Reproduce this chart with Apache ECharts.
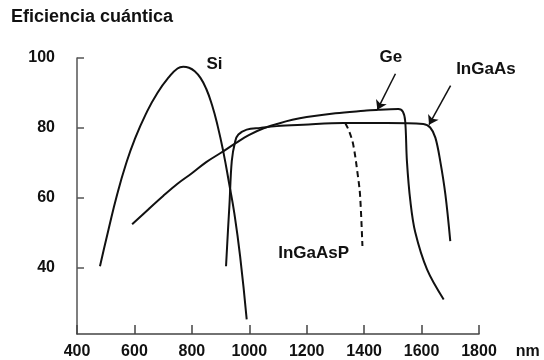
<!DOCTYPE html>
<html>
<head>
<meta charset="utf-8">
<script src="https://cdn.jsdelivr.net/npm/echarts@6/dist/echarts.min.js"></script>
<style>
  html, body { margin: 0; padding: 0; background: #fff; }
  #chart { width: 544px; height: 360px; }
</style>
</head>
<body>
<div id="chart"></div>
<script>
// wavelength (nm), quantum efficiency (%)
const siData = [[480, 40.4], [510, 51], [540, 61], [570, 69.5], [600, 76.5], [640, 84], [680, 90],
  [720, 94.5], [750, 97], [770, 97.5], [790, 97.2], [810, 96.2], [830, 94.3], [850, 91.2], [870, 86.6],
  [890, 80.5], [910, 73], [930, 64], [948, 55.5], [968, 43.3], [991, 25.2]];
const geData = [[592, 52.4], [650, 56.8], [700, 60.5], [750, 64], [800, 67], [850, 70.2], [900, 72.8],
  [950, 75.5], [1000, 78], [1050, 79.9], [1100, 81.2], [1150, 82.3], [1200, 83.1], [1300, 84.2],
  [1400, 84.9], [1450, 85.2], [1519, 85.4], [1535, 84.6], [1543, 81.9], [1549, 70.5], [1561, 59.0],
  [1578, 50.1], [1619, 39.5], [1677, 30.9]];
const ingaasData = [[919, 40.4], [926, 51], [931, 58.1], [939, 70.5], [951, 76.2], [962, 78.1], [991, 79.5],
  [1038, 80.0], [1096, 80.5], [1188, 80.9], [1328, 81.4], [1479, 81.4], [1606, 81.1], [1630, 80.1],
  [1648, 77.2], [1665, 70.5], [1683, 60.9], [1700, 47.6]];
const ingaaspData = [[1334, 81.4], [1348, 79], [1362, 75.2], [1379, 65.8], [1386, 60.5], [1394, 46.2]];

const yTicks = [40, 60, 80, 100];
const geArrow = [[1509, 95.5], [1446, 85.2]];
const ingaasArrow = [[1701, 92.1], [1626, 80.9]];

// text labels, anchored in data coordinates
const labels = [
  { text: 'Si', at: [879, 98.1] },
  { text: 'Ge', at: [1493, 100.1] },
  { text: 'InGaAs', at: [1824, 96.9] },
  { text: 'InGaAsP', at: [1224, 44.1] },
  { text: 'nm', at: [1970, 16.1], size: 16 }
];

const font = '"Liberation Sans", Arial, sans-serif';
const ink = '#111';

var dom = document.getElementById('chart');
var myChart = echarts.init(dom, null, { renderer: 'canvas' });

function arrow(pts) {
  return {
    silent: true,
    symbol: ['none', 'arrow'],
    symbolSize: 9,
    label: { show: false },
    lineStyle: { color: ink, width: 1.5, type: 'solid' },
    itemStyle: { color: ink },
    emphasis: { disabled: true },
    data: [[{ coord: pts[0] }, { coord: pts[1] }]]
  };
}

function curve(name, data, extra) {
  return Object.assign({
    name: name,
    type: 'line',
    data: data,
    symbol: 'none',
    smooth: 0.35,
    clip: false,
    lineStyle: { color: ink, width: 2 },
    emphasis: { disabled: true }
  }, extra || {});
}

var option = {
  animation: false,
  backgroundColor: '#fff',
  title: {
    text: 'Eficiencia cuántica',
    left: 11,
    top: 8,
    padding: 0,
    textStyle: { fontFamily: font, fontSize: 18, fontWeight: 'bold', color: ink }
  },
  grid: { left: 77, right: 65, top: 58, bottom: 25 },
  xAxis: {
    type: 'value',
    min: 400,
    max: 1800,
    interval: 200,
    axisLine: { lineStyle: { color: '#444', width: 1.5 } },
    axisTick: { inside: true, length: 9, lineStyle: { color: '#444', width: 1.5 } },
    axisLabel: {
      margin: 10, fontFamily: font, fontSize: 16, fontWeight: 'bold', color: ink,
      formatter: function (v) { return String(v); }
    },
    splitLine: { show: false }
  },
  yAxis: {
    type: 'value',
    min: 21,
    max: 100,
    axisLine: { show: true, lineStyle: { color: '#555', width: 1.5 } },
    axisTick: { show: true, inside: true, length: 7, customValues: yTicks, lineStyle: { color: '#555', width: 1.5 } },
    axisLabel: { margin: 22, customValues: yTicks, fontFamily: font, fontSize: 16, fontWeight: 'bold', color: ink },
    splitLine: { show: false }
  },
  series: [
    curve('Si', siData, { smooth: 0.5 }),
    curve('Ge', geData, { markLine: arrow(geArrow) }),
    curve('InGaAs', ingaasData, { markLine: arrow(ingaasArrow) }),
    curve('InGaAsP', ingaaspData, { lineStyle: { color: ink, width: 2, type: [6, 4] } })
  ]
};

myChart.setOption(option);

myChart.setOption({
  graphic: labels.map(function (l) {
    var p = myChart.convertToPixel({ gridIndex: 0 }, l.at);
    return {
      type: 'text',
      x: p[0],
      y: p[1],
      silent: true,
      style: {
        text: l.text,
        font: 'bold ' + (l.size || 17) + 'px ' + font,
        fill: ink,
        align: 'center',
        verticalAlign: 'middle'
      }
    };
  })
});

window.addEventListener('resize', myChart.resize);
</script>
</body>
</html>
